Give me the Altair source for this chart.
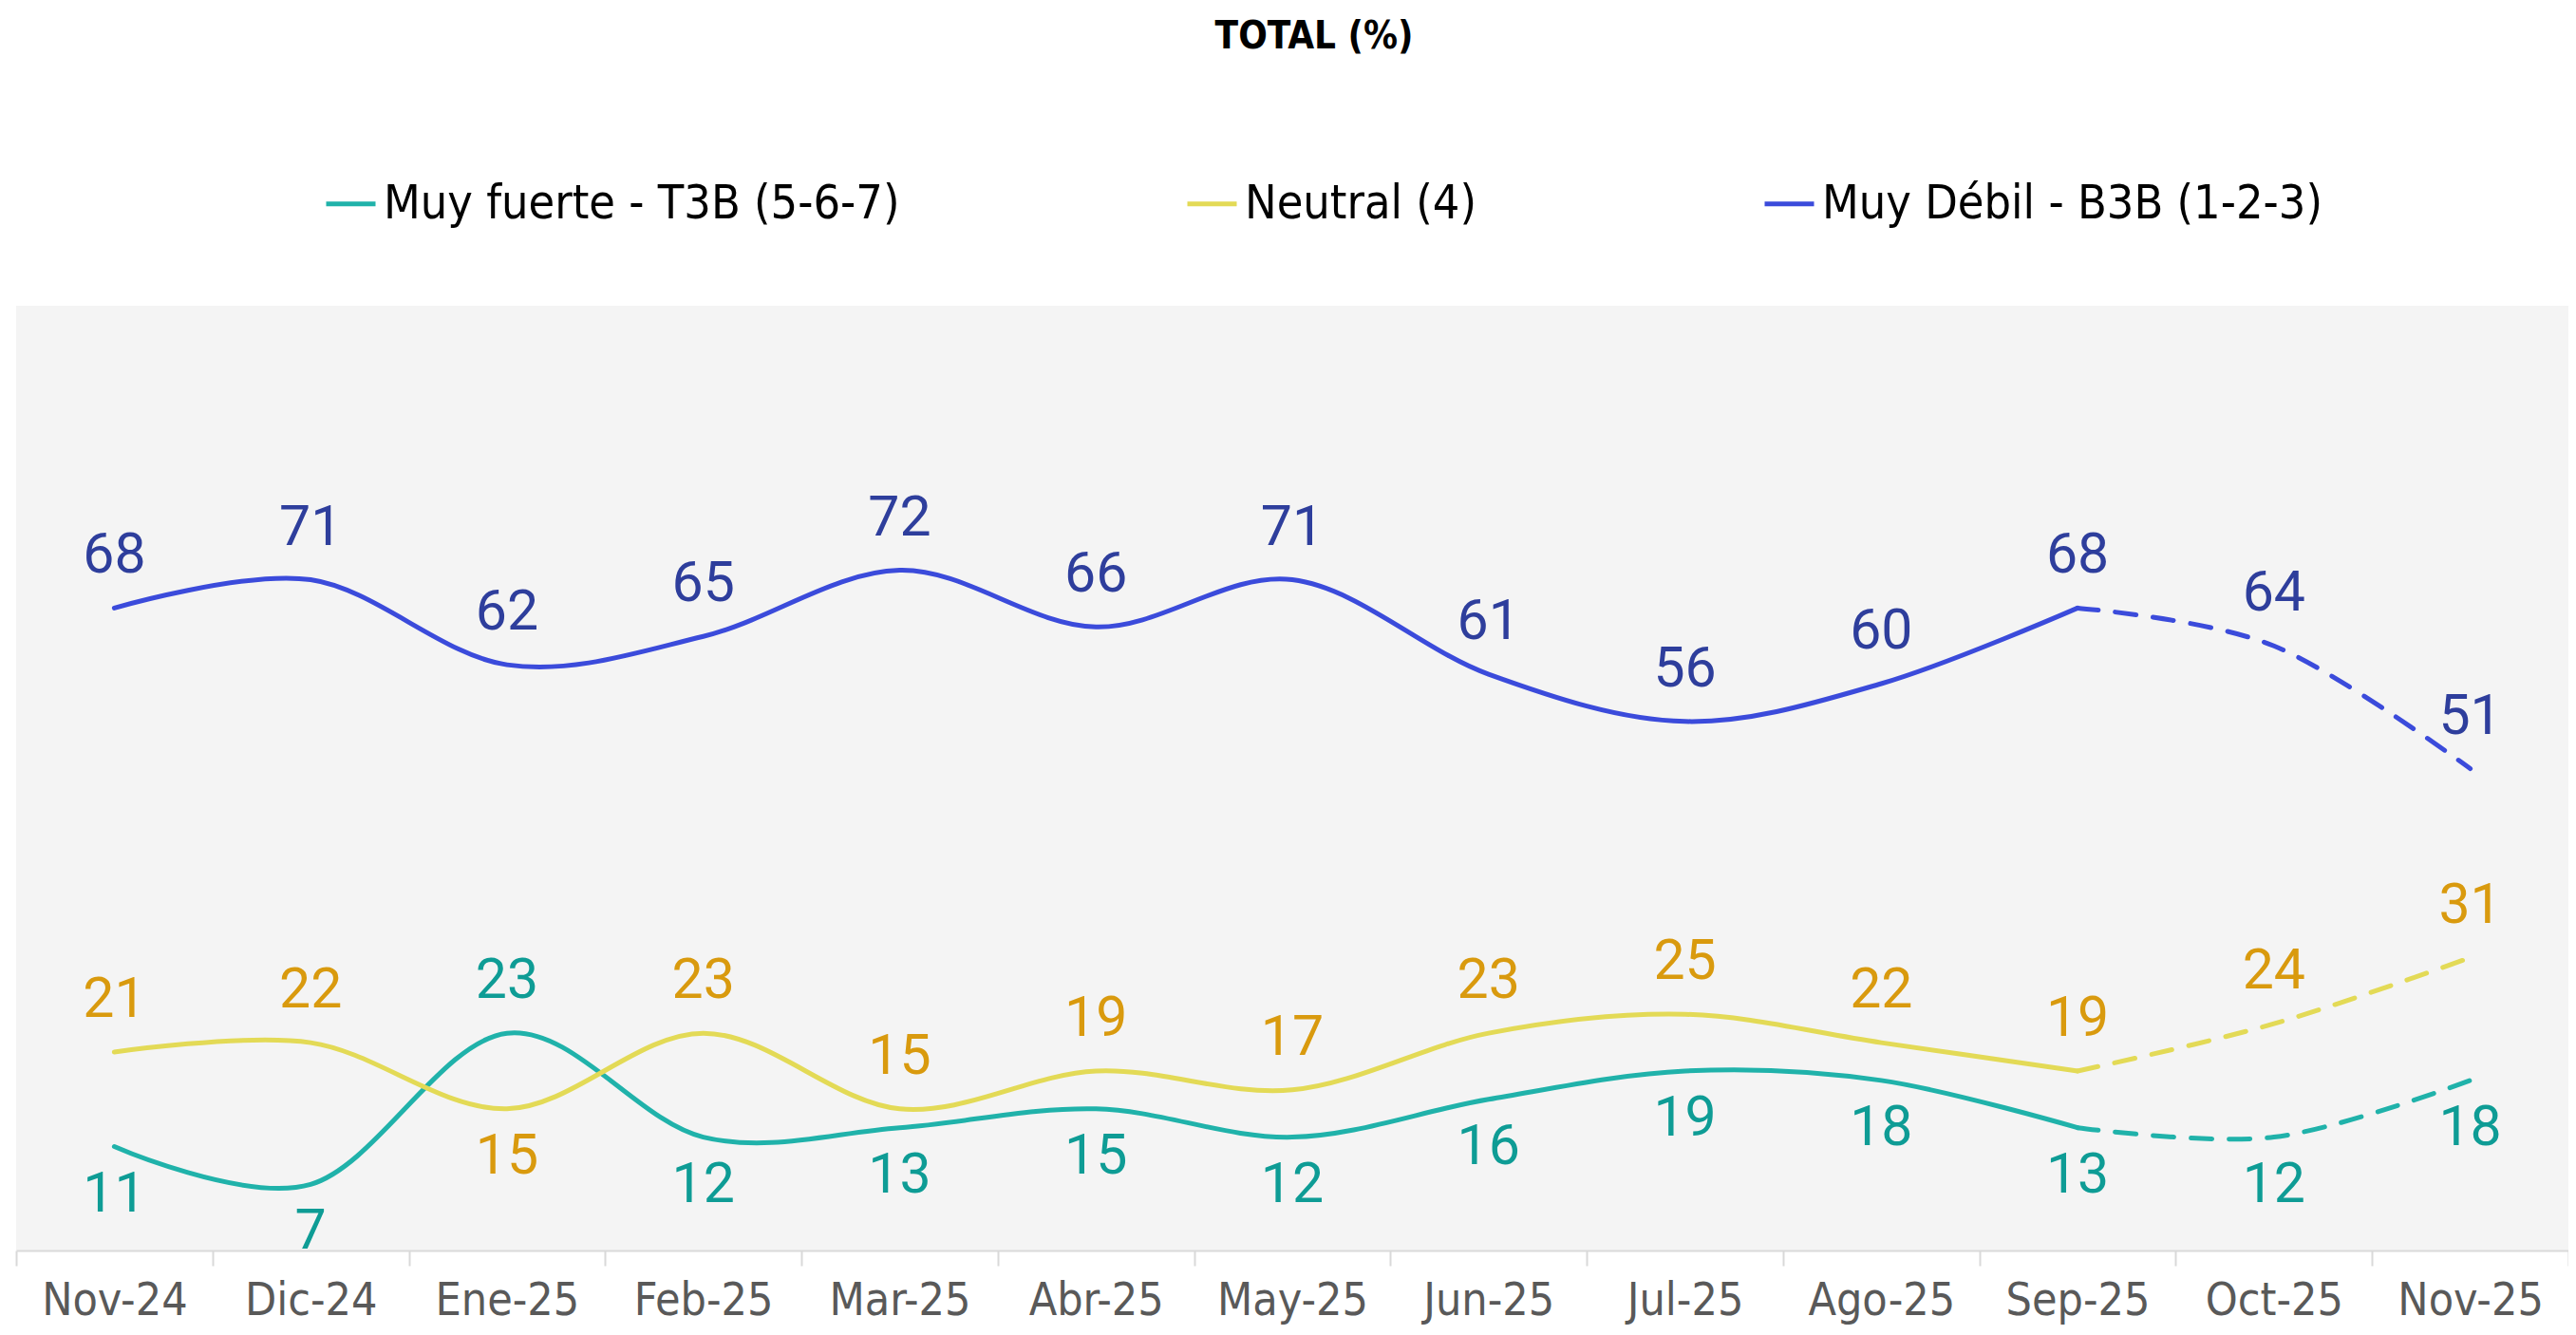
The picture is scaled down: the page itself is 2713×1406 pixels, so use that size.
import altair as alt
import pandas as pd

months = ["Nov-24", "Dic-24", "Ene-25", "Feb-25", "Mar-25", "Abr-25", "May-25",
          "Jun-25", "Jul-25", "Ago-25", "Sep-25", "Oct-25", "Nov-25"]
series_names = ["Muy fuerte - T3B (5-6-7)", "Neutral (4)", "Muy Débil - B3B (1-2-3)"]
muy_fuerte = [11, 7, 23, 12, 13, 15, 12, 16, 19, 18, 13, 12, 18]
neutral = [21, 22, 15, 23, 15, 19, 17, 23, 25, 22, 19, 24, 31]
muy_debil = [68, 71, 62, 65, 72, 66, 71, 61, 56, 60, 68, 64, 51]
line_colors = ["#20B2AA", "#E3DA56", "#3B4BDB"]
label_colors = ["#0E9C95", "#D99A0E", "#2E3E9C"]
last_solid = "Sep-25"

COND = "Liberation Sans Narrow, DejaVu Sans Condensed, sans-serif"

all_vals = [muy_fuerte, neutral, muy_debil]
cut = months.index(last_solid)
rows = []
for si, name in enumerate(series_names):
    for j, m in enumerate(months):
        v = all_vals[si][j]
        if si == 2:
            pos = "above"
        else:
            other = all_vals[1 - si][j]
            pos = "above" if v > other else "below"
        rows.append({"month": m, "idx": j, "series": name, "value": v,
                     "lc": label_colors[si], "pos": pos})
df = pd.DataFrame(rows)

x = alt.X("month:N", sort=months, bandPosition=0.5,
          scale=alt.Scale(type="band", paddingInner=0, paddingOuter=0),
          axis=alt.Axis(title=None, labelAngle=0, tickBand="extent", tickSize=16,
                        tickColor="#D9D9D9", tickWidth=2, domainColor="#D9D9D9",
                        domainWidth=2, labelFont=COND, labelFontSize=48,
                        labelColor="#595959", labelPadding=13, grid=False))
y = alt.Y("value:Q", scale=alt.Scale(domain=[0, 100], nice=False, zero=True), axis=None)
color = alt.Color("series:N", sort=series_names,
                  scale=alt.Scale(domain=series_names, range=line_colors),
                  legend=alt.Legend(title=None, orient="none", direction="horizontal",
                                    legendX=324, legendY=-136, symbolType="stroke",
                                    symbolStrokeWidth=5, symbolSize=2704,
                                    labelFont=COND, labelFontSize=50, labelColor="#000000",
                                    labelLimit=2000, columnPadding=292, labelOffset=6))

base = alt.Chart(df)
solid = base.transform_filter(alt.datum.idx <= cut).mark_line(
    interpolate="cardinal", strokeWidth=5, strokeCap="round").encode(
    x=x, y=y, color=color, detail="series:N")
dashed = base.transform_filter(alt.datum.idx >= cut).mark_line(
    interpolate="cardinal", strokeWidth=5, strokeCap="round", strokeDash=[22, 18]).encode(
    x=x, y=y,
    color=alt.Color("series:N", scale=alt.Scale(domain=series_names, range=line_colors), legend=None),
    detail="series:N")
lab_above = base.transform_filter(alt.datum.pos == "above").mark_text(
    font="Roboto", fontSize=59, dy=-55, baseline="middle").encode(
    x=x, y=y, text="value:Q", color=alt.Color("lc:N", scale=None))
lab_below = base.transform_filter(alt.datum.pos == "below").mark_text(
    font="Roboto", fontSize=59, dy=50, baseline="middle").encode(
    x=x, y=y, text="value:Q", color=alt.Color("lc:N", scale=None))

chart = alt.layer(solid, dashed, lab_above, lab_below).properties(
    width=2688, height=995,
    title=alt.TitleParams("TOTAL (%)", font=COND, fontSize=40, fontWeight="bold",
                          color="#000000", anchor="middle", offset=127, dx=23),
    autosize=alt.AutoSizeParams(type="none"),
    padding={"left": 9, "right": 0, "top": 314, "bottom": 79},
).configure_view(fill="#F4F4F4", stroke=None)

chart.save("out.html", embed_options={"renderer": "svg", "actions": False})
